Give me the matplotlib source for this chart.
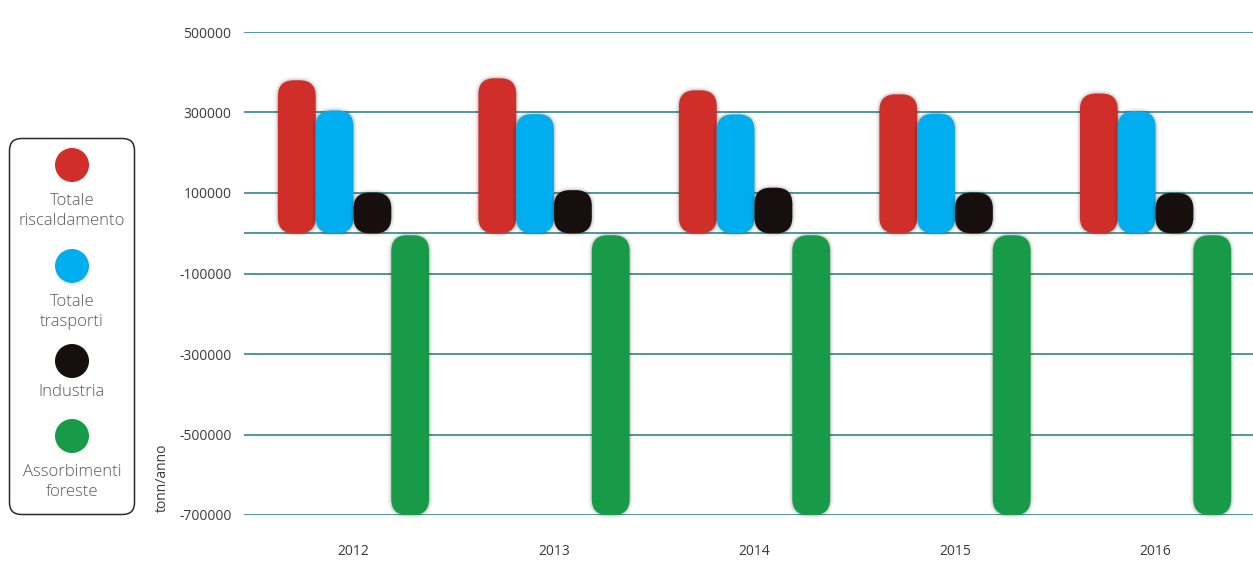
import matplotlib
matplotlib.use("Agg")
import matplotlib.pyplot as plt
import matplotlib.patheffects as pe
from matplotlib.patches import FancyBboxPatch
import numpy as np

plt.rcParams['font.family'] = ['Open Sans', 'DejaVu Sans']

# data (tonn/anno)
years = ['2012', '2013', '2014', '2015', '2016']
series = ['Totale\nriscaldamento', 'Totale\ntrasporti', 'Industria', 'Assorbimenti\nforeste']
riscaldamento = [380000, 385000, 355000, 345000, 347000]
trasporti = [305000, 296000, 295000, 297000, 303000]
industria = [101000, 107000, 113000, 101000, 100000]
foreste = [-700000, -700000, -700000, -700000, -700000]
values = [riscaldamento, trasporti, industria, foreste]
colors = ['#cf2e29', '#00adee', '#170f0d', '#189b48']

yticks = [500000, 300000, 100000, 0, -100000, -300000, -500000, -700000]
ytick_labels = ['500000', '300000', '100000', '', '-100000', '-300000', '-500000', '-700000']

fig = plt.figure(figsize=(12.53, 5.61), dpi=100)
W, H = 1253, 561
ax = fig.add_axes([244 / W, (H - 515) / H, 1 - 244 / W, (515 - 32) / H])

xmin, xmax = -0.546, 4.486
ymin, ymax = -700000, 500000
ax.set_xlim(xmin, xmax)
ax.set_ylim(ymin, ymax)

x = np.arange(len(years))
bw = 0.1885
# rounding: same pixel radius in x and y
px_x = (xmax - xmin) / (W - 244)
px_y = (ymax - ymin) / (515 - 32)
r = 16 * px_x
asp = px_y / px_x

# soft grey glow round the bars
glow = [pe.Stroke(linewidth=5, foreground='k', alpha=0.04),
        pe.Stroke(linewidth=3, foreground='k', alpha=0.06),
        pe.Stroke(linewidth=1.5, foreground='k', alpha=0.08),
        pe.Normal()]
for i, (vals, c) in enumerate(zip(values, colors)):
    bars = ax.bar(x + (i - 1.5) * bw, vals, bw, color=c)
    for rect in bars:
        x0, y0 = rect.get_x(), rect.get_y()
        w, h = rect.get_width(), rect.get_height()
        if h < 0:
            y0, h = y0 + h, -h
        rect.remove()
        if i == 3:
            h -= 2 * px_y  # green starts just under zero line
        p = FancyBboxPatch((x0, y0), w, h,
                           boxstyle=f"round,pad=0,rounding_size={r}",
                           mutation_aspect=asp, fc=c, ec='none',
                           zorder=3, clip_on=False, path_effects=glow)
        ax.add_patch(p)

ax.set_yticks(yticks)
ax.set_yticklabels(ytick_labels)
ax.set_xticks(x)
ax.set_xticklabels(years)
ax.grid(axis='y', color='#207b7e', lw=1.1, zorder=0)
ax.set_axisbelow(True)
for s in ax.spines.values():
    s.set_visible(False)
ax.tick_params(axis='y', length=0, pad=9, labelsize=10, labelcolor='#3a3a3a')
ax.tick_params(axis='x', length=0, pad=21, labelsize=10, labelcolor='#3a3a3a')

fig.text(162 / W, (H - 478) / H, 'tonn/anno', rotation=90, ha='center', va='center',
         fontsize=10, color='#3a3a3a')

# legend panel
lax = fig.add_axes([0, 0, 1, 1])
lax.set_xlim(0, W)
lax.set_ylim(H, 0)
lax.axis('off')
lax.add_patch(FancyBboxPatch((9.5, 138.5), 125, 376,
                             boxstyle="round,pad=0,rounding_size=12",
                             fc='white', ec='#2a2a2a', lw=1.1))
circle_y = [165, 266, 361, 436]
text_y = [211, 312, 392, 482]
for lab, c, cy, ty in zip(series, colors, circle_y, text_y):
    lax.scatter([72], [cy], s=600, color=c, edgecolors='none')
    lax.text(72, ty, lab, ha='center', va='center', fontsize=12,
             color='#5a5a5a', linespacing=1.4, fontweight='light')

fig.savefig('out.png', dpi=100)
